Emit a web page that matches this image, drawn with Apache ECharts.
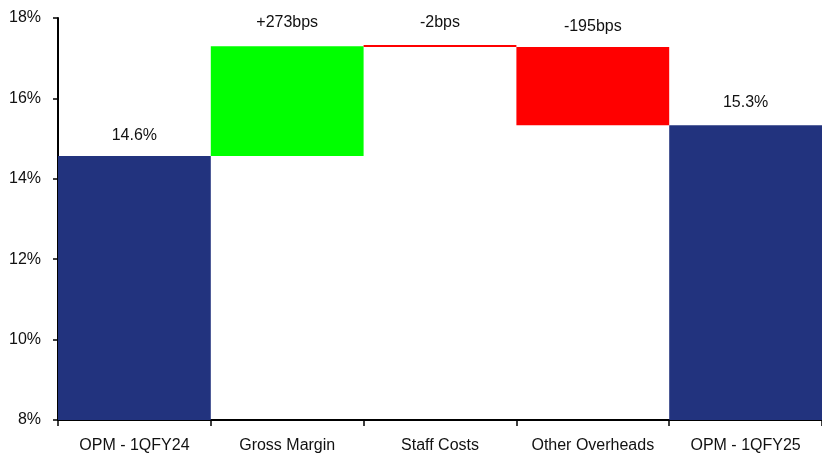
<!DOCTYPE html>
<html>
<head>
<meta charset="utf-8">
<script src="https://cdn.jsdelivr.net/npm/echarts@6/dist/echarts.min.js"></script>
<style>
  html, body { margin: 0; padding: 0; background: #fff; }
  #chart { width: 822px; height: 460px; }
</style>
</head>
<body>
<div id="chart"></div>
<script>
// categories and values (percent)
const categories = ['OPM - 1QFY24', 'Gross Margin', 'Staff Costs', 'Other Overheads', 'OPM - 1QFY25'];
const startValue = 14.57;
const changes = [2.73, -0.02, -1.95];   // in percentage points
const labels = ['14.6%', '+273bps', '-2bps', '-195bps', '15.3%'];
const yTicks = [8, 10, 12, 14, 16, 18];

// label gap above each bar (px)
const labelDist = [12, 16, 14, 12, 15];

// build waterfall stack
const endValue = changes.reduce((a, b) => a + b, startValue);
var base = [0];
var visible = [startValue];
var colors = ['#22337E'];
let level = startValue;
for (let i = 0; i < changes.length; i++) {
    const c = changes[i];
    const next = level + c;
    base.push(Math.min(level, next));
    visible.push(Math.abs(c));
    colors.push(c >= 0 ? '#00FF00' : '#FF0000');
    level = next;
}
base.push(0);
visible.push(endValue);
colors.push('#22337E');

const myChart = echarts.init(document.getElementById('chart'));

const textFont = 'Liberation Sans, Arial, sans-serif';

var option = {
    animation: false,
    grid: {
        left: 58,
        top: 18,
        bottom: 40,
        right: -8,
        containLabel: false
    },
    xAxis: {
        type: 'category',
        data: categories,
        axisLine: { lineStyle: { color: '#000', width: 2 } },
        axisTick: { show: true, length: 6, lineStyle: { color: '#000', width: 1.5 } },
        axisLabel: { interval: 0, color: '#111', fontSize: 16, fontFamily: textFont, margin: 18 },
        splitLine: { show: false }
    },
    yAxis: {
        type: 'value',
        min: yTicks[0],
        max: yTicks[yTicks.length - 1],
        interval: 2,
        axisLine: { show: true, lineStyle: { color: '#000', width: 2 } },
        axisTick: { show: true, length: 5, lineStyle: { color: '#000', width: 1.5 } },
        axisLabel: {
            color: '#111', fontSize: 16, fontFamily: textFont, margin: 17,
            formatter: v => v + '%'
        },
        splitLine: { show: false }
    },
    series: [
        {
            type: 'bar',
            stack: 'wf',
            data: base,
            itemStyle: { color: 'transparent' },
            barCategoryGap: 0,
            silent: true
        },
        {
            type: 'bar',
            stack: 'wf',
            barCategoryGap: 0,
            barMinHeight: 2,
            data: visible.map((v, i) => ({
                value: v,
                itemStyle: { color: colors[i] },
                label: {
                    show: true,
                    position: 'top',
                    distance: labelDist[i],
                    formatter: labels[i],
                    color: '#111',
                    fontSize: 16,
                    fontFamily: textFont
                }
            }))
        }
    ]
};
myChart.setOption(option);
</script>
</body>
</html>
